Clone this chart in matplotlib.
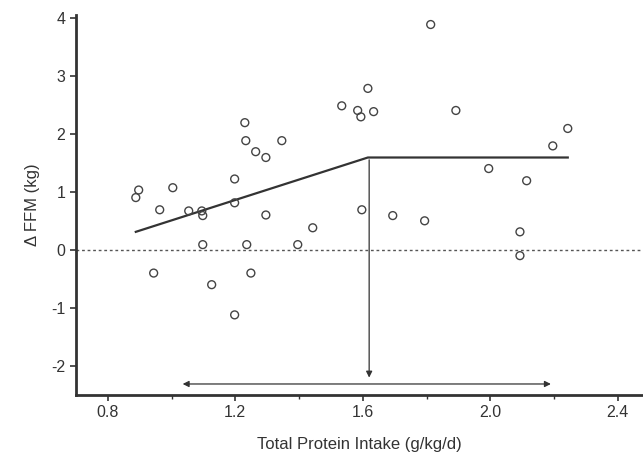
import numpy as np
import matplotlib.pyplot as plt

plt.rcParams["font.family"] = ["Liberation Sans", "DejaVu Sans"]
plt.rcParams["axes.unicode_minus"] = False

# protein intake (g/kg/d) and change in fat-free mass (kg)
protein = [0.888, 0.897, 1.004, 0.963, 1.054, 1.095, 1.098, 1.23, 1.233, 1.264,
           1.296, 1.346, 1.198, 1.198, 1.296, 1.443, 1.098, 1.236, 1.396, 0.944,
           1.249, 1.126, 1.198, 1.534, 1.616, 1.584, 1.594, 1.634, 1.813, 1.892,
           2.243, 2.196, 1.995, 2.114, 1.597, 1.694, 1.794, 2.093, 2.093]
dffm = [0.90, 1.03, 1.07, 0.69, 0.67, 0.67, 0.59, 2.19, 1.88, 1.69,
        1.59, 1.88, 1.22, 0.81, 0.60, 0.38, 0.09, 0.09, 0.09, -0.40,
        -0.40, -0.60, -1.12, 2.48, 2.78, 2.40, 2.29, 2.38, 3.88, 2.40,
        2.09, 1.79, 1.40, 1.19, 0.69, 0.59, 0.50, 0.31, -0.10]

# two-phase fit
fit_x = [0.888, 1.616, 2.243]
fit_y = [0.31, 1.59, 1.59]
breakpoint_x = 1.62
ci_low, ci_high = 1.035, 2.19

fig = plt.figure(figsize=(6.43, 4.65), dpi=100)
ax = fig.add_axes([0.118, 0.1505, 0.882, 0.818])

ax.axhline(0, color="#555555", lw=1, ls=(0, (2, 2)), zorder=1)
ax.plot(fit_x, fit_y, color="#333333", lw=1.6, zorder=2)
ax.scatter(protein, dffm, s=32, facecolors="none", edgecolors="#444444",
           linewidths=1.0, zorder=3)

ax.annotate("", xy=(breakpoint_x, -2.2), xytext=(breakpoint_x, 1.55),
            arrowprops=dict(arrowstyle="-|>", color="#333333", lw=0.9,
                            mutation_scale=9, shrinkA=0, shrinkB=0))
ax.annotate("", xy=(ci_low, -2.31), xytext=(ci_high, -2.31),
            arrowprops=dict(arrowstyle="<|-|>", color="#333333", lw=0.9,
                            mutation_scale=9, shrinkA=0, shrinkB=0))

ax.set_xlim(0.7, 2.479)
ax.set_ylim(-2.5, 4.05)
ax.set_xticks([0.8, 1.2, 1.6, 2.0, 2.4])
ax.set_xticklabels(["0.8", "1.2", "1.6", "2.0", "2.4"])
ax.set_xticks([1.0, 1.4, 1.8, 2.2], minor=True)
ax.set_yticks([-2, -1, 0, 1, 2, 3, 4])
ax.tick_params(labelsize=11.5, colors="#333333", width=1.2, length=4)
ax.tick_params(which="minor", length=3, width=1.0, colors="#333333")

for side in ["top", "right"]:
    ax.spines[side].set_visible(False)
for side in ["left", "bottom"]:
    ax.spines[side].set_linewidth(2)
    ax.spines[side].set_color("#333333")

ax.set_xlabel("Total Protein Intake (g/kg/d)", fontsize=12, color="#333333", labelpad=12)
ax.set_ylabel("Δ FFM (kg)", fontsize=12, color="#333333", labelpad=8)

fig.savefig("out.png", dpi=100)
